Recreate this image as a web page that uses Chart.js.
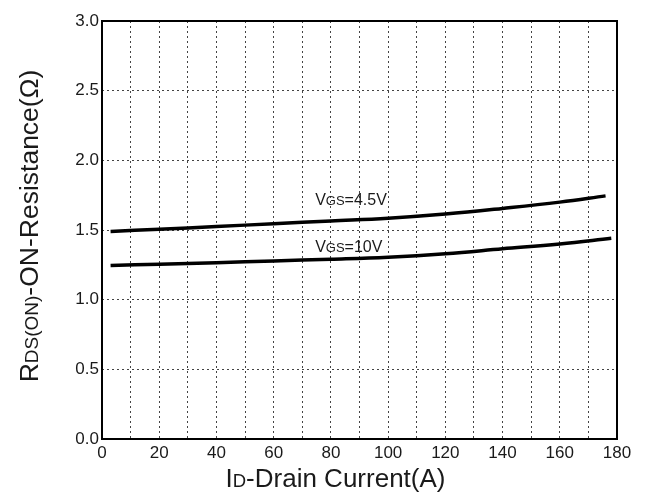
<!DOCTYPE html>
<html>
<head>
<meta charset="utf-8">
<script src="https://cdn.jsdelivr.net/npm/chart.js@4.4.1/dist/chart.umd.min.js"></script>
<style>
  html, body { margin: 0; padding: 0; background: #ffffff; }
  #wrap { width: 648px; height: 494px; }
</style>
</head>
<body>
<div id="wrap"><canvas id="rdsChart" width="648" height="494"></canvas></div>
<script>
// drain current (A) sample points
const current45 = [3, 20, 40, 60, 80, 100, 120, 140, 160, 176];
const rds45 = [1.49, 1.505, 1.525, 1.545, 1.565, 1.585, 1.615, 1.655, 1.70, 1.745];

const current10 = [3, 20, 40, 60, 80, 100, 120, 140, 160, 178];
const rds10 = [1.245, 1.255, 1.265, 1.278, 1.29, 1.305, 1.33, 1.365, 1.40, 1.44];

const xTicks = [0, 20, 40, 60, 80, 100, 120, 140, 160, 180];
const yTicks = [0.0, 0.5, 1.0, 1.5, 2.0, 2.5, 3.0];

// curve labels: [x, y] in data units, main text, subscript, rest
const curveLabels = [
  [74.5, 1.68, "V", "GS", "=4.5V"],
  [74.5, 1.345, "V", "GS", "=10V"]
];

function toPoints(xs, ys) {
  return xs.map((x, i) => ({x: x, y: ys[i]}));
}

const FONT = "'Liberation Sans', Arial, sans-serif";

// draws text made of [string, size] pieces, starting at the current origin
function drawPieces(ctx, pieces) {
  let x = 0;
  pieces.forEach(p => {
    ctx.font = p[1] + "px " + FONT;
    ctx.fillText(p[0], x, 0);
    x += ctx.measureText(p[0]).width;
  });
  return x;
}
function piecesWidth(ctx, pieces) {
  let w = 0;
  pieces.forEach(p => {
    ctx.font = p[1] + "px " + FONT;
    w += ctx.measureText(p[0]).width;
  });
  return w;
}

const decorPlugin = {
  id: "decor",
  afterDraw(chart) {
    const ctx = chart.ctx;
    const a = chart.chartArea;
    const xs = chart.scales.x, ys = chart.scales.y;

    // frame round the plot
    ctx.save();
    ctx.strokeStyle = "#000000";
    ctx.lineWidth = 2;
    ctx.strokeRect(a.left, a.top, a.right - a.left, a.bottom - a.top);
    ctx.restore();

    ctx.save();
    ctx.fillStyle = "#1a1a1a";
    ctx.textBaseline = "alphabetic";

    // curve labels
    curveLabels.forEach(l => {
      ctx.save();
      ctx.translate(xs.getPixelForValue(l[0]), ys.getPixelForValue(l[1]));
      drawPieces(ctx, [[l[2], 16], [l[3], 13], [l[4], 16]]);
      ctx.restore();
    });

    // x axis title
    const xt = [["I", 26], ["D", 18.5], ["-Drain Current(A)", 26]];
    ctx.save();
    ctx.translate(335.5 - piecesWidth(ctx, xt) / 2, 487);
    drawPieces(ctx, xt);
    ctx.restore();

    // y axis title
    const yt = [["R", 26.5], ["DS(ON)", 19], ["-ON-Resistance(\u03A9)", 26.5]];
    ctx.save();
    ctx.translate(37.5, 226);
    ctx.rotate(-Math.PI / 2);
    ctx.translate(-piecesWidth(ctx, yt) / 2, 0);
    drawPieces(ctx, yt);
    ctx.restore();

    ctx.restore();
  }
};

const rdsChartData = {
  datasets: [
    {
      label: "VGS=4.5V",
      data: toPoints(current45, rds45),
      borderColor: "#000000",
      borderWidth: 3.5,
      pointRadius: 0,
      tension: 0.4,
      fill: false
    },
    {
      label: "VGS=10V",
      data: toPoints(current10, rds10),
      borderColor: "#000000",
      borderWidth: 3.5,
      pointRadius: 0,
      tension: 0.4,
      fill: false
    }
  ]
};

const rdsChartConfig = {
  type: "line",
  data: rdsChartData,
  options: {
    responsive: false,
    animation: false,
    layout: { padding: { left: 0, top: 21, right: 31, bottom: 0 } },
    plugins: {
      legend: { display: false },
      tooltip: { enabled: false }
    },
    scales: {
      x: {
        type: "linear",
        min: 0,
        max: 180,
        afterFit: (s) => { s.height = 55; },
        afterBuildTicks: (s) => {
          const t = [];
          for (let v = 0; v <= 180; v += 10) t.push({value: v});
          s.ticks = t;
        },
        ticks: {
          padding: 4,
          color: "#1a1a1a",
          font: { family: FONT, size: 17 },
          maxRotation: 0,
          autoSkip: false,
          callback: (v) => xTicks.includes(v) ? String(v) : ""
        },
        grid: { color: "#444444", lineWidth: 1, drawTicks: false },
        border: { display: false, dash: [2, 3] }
      },
      y: {
        min: 0,
        max: 3,
        afterFit: (s) => { s.width = 102; },
        afterBuildTicks: (s) => { s.ticks = yTicks.map(v => ({value: v})); },
        ticks: {
          padding: 3,
          color: "#1a1a1a",
          font: { family: FONT, size: 17 },
          callback: (v) => v.toFixed(1)
        },
        grid: { color: "#444444", lineWidth: 1, drawTicks: false },
        border: { display: false, dash: [2, 3] }
      }
    }
  },
  plugins: [decorPlugin]
};

const rdsChart = new Chart(document.getElementById("rdsChart"), rdsChartConfig);
</script>
</body>
</html>
